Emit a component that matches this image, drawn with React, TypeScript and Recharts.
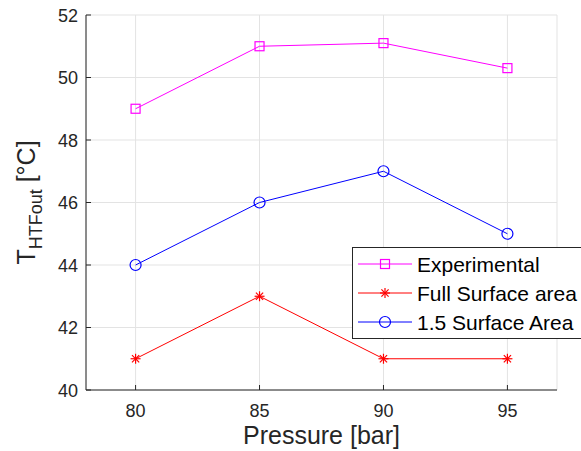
import { CartesianGrid, Legend, Line, LineChart, XAxis, YAxis } from "recharts";

const PRESSURE = [80, 85, 90, 95];
const EXPERIMENTAL = [49, 51, 51.1, 50.3];
const FULL_SURFACE = [41, 43, 41, 41];
const SURFACE_15 = [44, 46, 47, 45];
const X_TICKS = [80, 85, 90, 95];
const Y_TICKS = [40, 42, 44, 46, 48, 50, 52];

const FONT = '"Liberation Sans", Arial, Helvetica, sans-serif';
const AXIS = "#262626";

type Marker = "square" | "star" | "circle";

const SERIES: { key: string; name: string; color: string; marker: Marker }[] = [
  { key: "exp", name: "Experimental", color: "#ff00ff", marker: "square" },
  { key: "full", name: "Full Surface area", color: "#ff0000", marker: "star" },
  { key: "s15", name: "1.5 Surface Area", color: "#0000ff", marker: "circle" },
];

const data = PRESSURE.map((p, i) => ({
  p,
  exp: EXPERIMENTAL[i],
  full: FULL_SURFACE[i],
  s15: SURFACE_15[i],
}));

function MarkerShape({ x, y, kind, color }: { x: number; y: number; kind: Marker; color: string }) {
  if (kind === "square") {
    return <rect x={x - 4.5} y={y - 4.5} width={9} height={9} fill="none" stroke={color} strokeWidth={1.2} />;
  }
  if (kind === "circle") {
    return <circle cx={x} cy={y} r={5.5} fill="none" stroke={color} strokeWidth={1.2} />;
  }
  const d = 3.6;
  return (
    <g stroke={color} strokeWidth={1.2}>
      <line x1={x - 5} y1={y} x2={x + 5} y2={y} />
      <line x1={x} y1={y - 5} x2={x} y2={y + 5} />
      <line x1={x - d} y1={y - d} x2={x + d} y2={y + d} />
      <line x1={x - d} y1={y + d} x2={x + d} y2={y - d} />
    </g>
  );
}

// MATLAB-style ticks: short marks pointing into the plot box.
const BottomTick = (props: any) => {
  const { x, y, payload } = props;
  return (
    <g>
      <line x1={x} y1={y} x2={x} y2={y - 5} stroke={AXIS} />
      <text x={x} y={y + 27} textAnchor="middle" fontSize={18} fill={AXIS} fontFamily={FONT}>
        {payload.value}
      </text>
    </g>
  );
};

const TopTick = (props: any) => {
  const { x, y } = props;
  return <line x1={x} y1={y} x2={x} y2={y + 5} stroke={AXIS} />;
};

const LeftTick = (props: any) => {
  const { x, y, payload } = props;
  return (
    <g>
      <line x1={x} y1={y} x2={x + 5} y2={y} stroke={AXIS} />
      <text x={x - 8} y={y + 6.5} textAnchor="end" fontSize={18} fill={AXIS} fontFamily={FONT}>
        {payload.value}
      </text>
    </g>
  );
};

const RightTick = (props: any) => {
  const { x, y } = props;
  return <line x1={x} y1={y} x2={x - 5} y2={y} stroke={AXIS} />;
};

const XLabel = (props: any) => {
  const vb = props.viewBox;
  return (
    <text x={vb.x + vb.width / 2} y={vb.y + 54} textAnchor="middle" fontSize={25} fill={AXIS} fontFamily={FONT}>
      Pressure [bar]
    </text>
  );
};

const YLabel = (props: any) => {
  const vb = props.viewBox;
  const cy = vb.y + vb.height / 2;
  return (
    <text transform={`translate(35, ${cy}) rotate(-90)`} textAnchor="middle" fontSize={25} fill={AXIS} fontFamily={FONT}>
      T
      <tspan fontSize={18} dy={7}>
        HTFout
      </tspan>
      <tspan dy={-7}> [°C]</tspan>
    </text>
  );
};

const LegendBox = () => (
  <svg width={240} height={93} style={{ display: "block" }}>
    <rect x={0.5} y={0.5} width={260} height={91} fill="#fff" stroke={AXIS} />
    {SERIES.map((s, i) => {
      const y = 17 + i * 29;
      return (
        <g key={s.key}>
          <line x1={6} y1={y} x2={60} y2={y} stroke={s.color} />
          <MarkerShape x={33} y={y} kind={s.marker} color={s.color} />
          <text x={65} y={y + 7.5} fontSize={21} fill="#000" fontFamily={FONT}>
            {s.name}
          </text>
        </g>
      );
    })}
  </svg>
);

export default function App() {
  return (
    <div style={{ position: "absolute", left: 0, top: 0, width: 581, height: 451, overflow: "hidden", background: "#fff" }}>
      <LineChart width={581} height={451} data={data} margin={{ top: 15, right: 24, bottom: 0, left: 0 }}>
        <CartesianGrid xAxisId="b" yAxisId="l" stroke="#e3e3e3" />
        <XAxis
          xAxisId="b"
          dataKey="p"
          type="number"
          domain={[78, 97]}
          ticks={X_TICKS}
          height={61}
          tickSize={0}
          tickMargin={0}
          tick={<BottomTick />}
          axisLine={{ stroke: AXIS }}
          label={<XLabel />}
        />
        <XAxis
          xAxisId="t"
          orientation="top"
          dataKey="p"
          type="number"
          domain={[78, 97]}
          ticks={X_TICKS}
          height={0}
          tickSize={0}
          tickMargin={0}
          tick={<TopTick />}
          axisLine={{ stroke: AXIS }}
        />
        <YAxis
          yAxisId="l"
          type="number"
          domain={[40, 52]}
          ticks={Y_TICKS}
          width={86}
          tickSize={0}
          tickMargin={0}
          tick={<LeftTick />}
          axisLine={{ stroke: AXIS }}
          label={<YLabel />}
        />
        <YAxis
          yAxisId="r"
          orientation="right"
          type="number"
          domain={[40, 52]}
          ticks={Y_TICKS}
          width={0}
          tickSize={0}
          tickMargin={0}
          tick={<RightTick />}
          axisLine={{ stroke: AXIS }}
        />
        {SERIES.map((s) => (
          <Line
            key={s.key}
            xAxisId="b"
            yAxisId="l"
            dataKey={s.key}
            name={s.name}
            stroke={s.color}
            strokeWidth={1}
            isAnimationActive={false}
            dot={(props: any) => (
              <g key={`${s.key}-${props.index}`}>
                <MarkerShape x={props.cx} y={props.cy} kind={s.marker} color={s.color} />
              </g>
            )}
            activeDot={false}
          />
        ))}
        <Legend
          layout="vertical"
          align="center"
          verticalAlign="middle"
          content={<LegendBox />}
          wrapperStyle={{ left: 352, top: 247, width: 240, height: 93 }}
        />
      </LineChart>
    </div>
  );
}
